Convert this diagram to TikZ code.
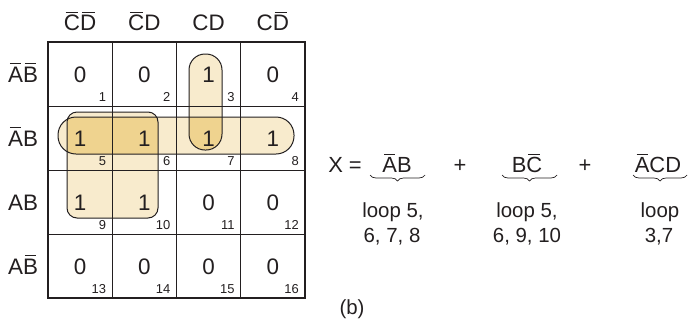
\documentclass[tikz,border=0pt]{standalone}
\usepackage{fontspec}
\setmainfont{Liberation Sans}
\usetikzlibrary{decorations.pathreplacing}
\definecolor{loopL}{HTML}{F8EBCD}
\definecolor{loopD}{HTML}{EFD38F}
\definecolor{ink}{HTML}{231F20}
\newcommand\ob[1]{\setbox0=\hbox{#1}\leavevmode\rlap{\kern0.08em\raise\dimexpr\ht0+2.2pt\relax\hbox{\vrule height 0.9pt width \dimexpr\wd0-0.16em\relax}}\box0}
\begin{document}
\begin{tikzpicture}[x=1bp,y=-1bp,
  big/.style={font=\fontsize{22.5}{26}\selectfont, text=ink, inner sep=0pt, anchor=base},
  eqn/.style={font=\fontsize{22}{26}\selectfont, text=ink, inner sep=0pt, anchor=base},
  note/.style={font=\fontsize{20.5}{24}\selectfont, text=ink, inner sep=0pt, anchor=base},
  idx/.style={font=\fontsize{13}{15}\selectfont, text=ink, inner sep=0pt, anchor=base east},
  loopline/.style={draw=ink, line width=1bp},
  gridline/.style={draw=ink, line width=0.9bp},
  bracestyle/.style={draw=ink, line width=0.7bp, decorate, decoration={brace,mirror,amplitude=6bp}}]
\useasboundingbox (0,0) rectangle (689,320);
% loop fills
\fill[loopL, rounded corners=18bp] (58,117) rectangle (294,154);
\fill[loopL, rounded corners=16bp] (189,54) rectangle (222,150);
\fill[loopL, rounded corners=10bp] (67,112) rectangle (158,218);
\begin{scope}
  \clip[rounded corners=18bp] (58,117) rectangle (294,154);
  \fill[loopD, rounded corners=16bp] (189,54) rectangle (222,150);
  \fill[loopD, rounded corners=10bp] (67,112) rectangle (158,218);
\end{scope}
% grid
\foreach \i in {1,2,3} {
  \draw[gridline] ({48+64.25*\i},42) -- ({48+64.25*\i},298);
  \draw[gridline] (48,{42+64*\i}) -- (305,{42+64*\i});
}
\draw[ink, line width=1.6bp] (48,42) rectangle (305,298);
% loop outlines
\draw[loopline, rounded corners=18bp] (58,117) rectangle (294,154);
\draw[loopline, rounded corners=16bp] (189,54) rectangle (222,150);
\draw[loopline, rounded corners=10bp] (67,112) rectangle (158,218);
% cell values and indices
\foreach \v [count=\n from 0] in {0,0,1,0,1,1,1,1,1,1,0,0,0,0,0,0} {
  \pgfmathtruncatemacro\c{mod(\n,4)}
  \pgfmathtruncatemacro\r{div(\n,4)}
  \pgfmathtruncatemacro\m{\n+1}
  \node[big] (v\m) at ({48+64.25*(\c+0.5)},{42+64*(\r+0.5)+8}) {\v};
  \node[idx] (i\m) at ({48+64.25*(\c+1)-6},{42+64*(\r+1)-5}) {\m};
}
% column labels
\node[big] (c1) at ({48+64.25*0.5},30.5) {\ob{C}\ob{D}};
\node[big] (c2) at ({48+64.25*1.5},30.5) {\ob{C}D};
\node[big] (c3) at ({48+64.25*2.5},30.5) {CD};
\node[big] (c4) at ({48+64.25*3.5},30.5) {C\ob{D}};
% row labels
\node[big] (r1) at (23,{74+8}) {\ob{A}\ob{B}};
\node[big] (r2) at (23,{138+8}) {\ob{A}B};
\node[big] (r3) at (23,{202+8}) {AB};
\node[big] (r4) at (23,{266+8}) {A\ob{B}};
% equation
\node[eqn] (xeq) at (345,172) {X =};
\node[eqn] (t1) at (397,172) {\ob{A}B};
\node[eqn] (p1) at (460,172) {+};
\node[eqn] (t2) at (527,172) {B\ob{C}};
\node[eqn] (p2) at (585,172) {+};
\node[eqn] (t3) at (658,172) {\ob{A}CD};
\draw[bracestyle] (370,175) -- (425,175);
\draw[bracestyle] (502,175) -- (557,175);
\draw[bracestyle] (633,175) -- (687,175);
\node[note] (l1a) at (393,217) {loop 5,};
\node[note] (l1b) at (392,242) {6, 7, 8};
\node[note] (l2a) at (527,217) {loop 5,};
\node[note] (l2b) at (527,242) {6, 9, 10};
\node[note] (l3a) at (660,217) {loop};
\node[note] (l3b) at (659,242) {3,7};
\node[note] (lab) at (352,314) {(b)};
\end{tikzpicture}
\end{document}
